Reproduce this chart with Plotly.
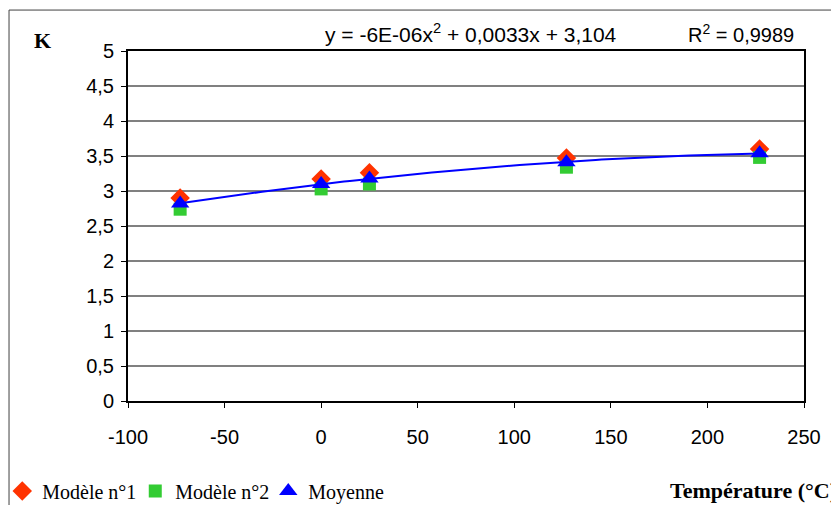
"""K as a function of temperature, two models and their mean with a quadratic trend."""

import numpy as np
import plotly.graph_objects as go

temperature = [-73, 0, 25, 127, 227]
modele_1 = [2.90, 3.17, 3.26, 3.47, 3.60]
modele_2 = [2.74, 3.03, 3.10, 3.34, 3.48]
moyenne = [2.82, 3.10, 3.18, 3.41, 3.54]

x_ticks = [-100, -50, 0, 50, 100, 150, 200, 250]
x_labels = ["-100", "-50", "0", "50", "100", "150", "200", "250"]
y_ticks = [0, 0.5, 1, 1.5, 2, 2.5, 3, 3.5, 4, 4.5, 5]

# quadratic trend on the mean
coef = np.polyfit(temperature, moyenne, 2)
trend_x = np.linspace(min(temperature), max(temperature), 100)
trend_y = np.polyval(coef, trend_x)

serif = "Liberation Serif, Times New Roman, serif"
sans = "Liberation Sans, Arial, sans-serif"

fig = go.Figure()
fig.add_trace(go.Scatter(x=temperature, y=modele_1, mode="markers", name="Modèle n°1",
                         marker=dict(symbol="diamond", size=15, color="#ff3300")))
fig.add_trace(go.Scatter(x=temperature, y=modele_2, mode="markers", name="Modèle n°2",
                         marker=dict(symbol="square", size=13, color="#33cc33")))
fig.add_trace(go.Scatter(x=trend_x, y=trend_y, mode="lines", showlegend=False,
                         line=dict(color="#0000ff", width=2)))
fig.add_trace(go.Scatter(x=temperature, y=moyenne, mode="markers", name="Moyenne",
                         marker=dict(symbol="triangle-up", size=16, color="#0000ff")))

# the page body adds an 8px offset, so margins are shifted by that much
fig.update_layout(
    width=839, height=505,
    margin=dict(l=120, r=43, t=43, b=112, autoexpand=False),
    paper_bgcolor="white", plot_bgcolor="white",
    separators=", ",
    font=dict(family=sans, size=20, color="black"),
    showlegend=True,
    legend=dict(orientation="h", x=-0.186, y=-0.257, xanchor="left", yanchor="middle",
                font=dict(family=serif, size=20, color="black"),
                itemwidth=30, entrywidth=88, tracegroupgap=0, bgcolor="rgba(0,0,0,0)"),
    xaxis=dict(range=[-100, 250], tickvals=x_ticks, ticktext=x_labels, showgrid=False,
               zeroline=False, showline=True, linecolor="black", linewidth=2, mirror=True,
               ticks="outside", ticklen=5, tickcolor="black", ticklabelstandoff=12),
    yaxis=dict(range=[0, 5], tickvals=y_ticks, showgrid=True, gridcolor="#808080",
               gridwidth=1.5, zeroline=False, showline=True, linecolor="black",
               linewidth=2, mirror=True, ticks="outside", ticklen=5, tickcolor="black",
               ticklabelstandoff=3),
    shapes=[dict(type="rect", xref="paper", yref="paper", x0=-0.176, x1=1.2,
                 y0=-0.5, y1=1.117, line=dict(color="#404040", width=1))],
    annotations=[
        dict(text="<b>K</b>", xref="paper", yref="paper", x=-0.127, y=1.031,
             xanchor="center", yanchor="middle", showarrow=False,
             font=dict(family=serif, size=22)),
        dict(text="y = -6E-06x<sup>2</sup> + 0,0033x + 3,104", xref="paper", yref="paper",
             x=0.2885, y=1.051, xanchor="left", yanchor="middle", showarrow=False,
             font=dict(size=21)),
        dict(text="R<sup>2</sup> = 0,9989", xref="paper", yref="paper",
             x=0.8254, y=1.051, xanchor="left", yanchor="middle", showarrow=False),
        dict(text="<b>Température (°C)</b>", xref="paper", yref="paper",
             x=0.799, y=-0.257, xanchor="left", yanchor="middle", showarrow=False,
             font=dict(family=serif, size=22)),
    ],
)

fig.write_html("out.html")
